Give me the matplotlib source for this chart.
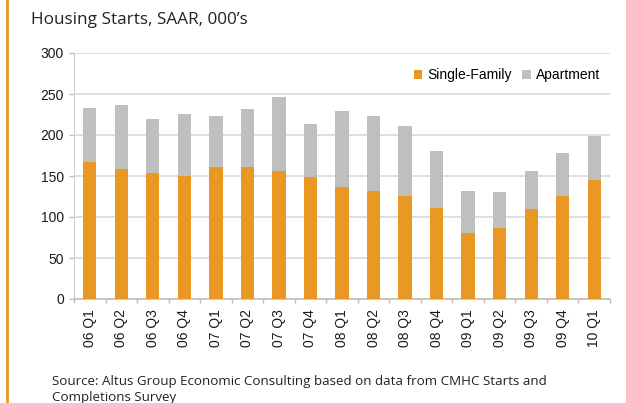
import matplotlib
matplotlib.use("Agg")
import matplotlib.pyplot as plt
import numpy as np

categories = ["06 Q1", "06 Q2", "06 Q3", "06 Q4", "07 Q1", "07 Q2", "07 Q3", "07 Q4",
              "08 Q1", "08 Q2", "08 Q3", "08 Q4", "09 Q1", "09 Q2", "09 Q3", "09 Q4", "10 Q1"]
single_family = [167, 158, 154, 150, 161, 161, 156, 149, 137, 132, 126, 111, 81, 87, 110, 126, 145]
total = [233, 237, 220, 226, 223, 232, 246, 213, 229, 223, 211, 181, 132, 131, 156, 178, 199]
apartment = [t - s for t, s in zip(total, single_family)]
yticks = [0, 50, 100, 150, 200, 250, 300]

ORANGE = "#E99822"
GRAY = "#BFBFBF"
GRID = "#D9D9D9"

fig = plt.figure(figsize=(6.26, 4.03), dpi=100)
W, H = 626, 403
ax = fig.add_axes([74 / W, 1 - 299 / H, (610 - 74) / W, (299 - 53) / H])

x = np.arange(len(categories))
ax.bar(x, single_family, width=0.42, color=ORANGE, label="Single-Family", zorder=3)
ax.bar(x, apartment, width=0.42, bottom=single_family, color=GRAY, label="Apartment", zorder=3)

ax.set_xlim(-0.5, len(categories) - 0.5)
ax.set_ylim(0, 300)
ax.yaxis.grid(True, color=GRID, linewidth=1.2, zorder=0)
ax.set_axisbelow(True)

tick_font = dict(family=["Liberation Sans", "DejaVu Sans"], size=10)
ax.set_yticks(yticks)
ax.set_yticklabels([str(v) for v in yticks], **tick_font, color="#1a1a1a")
ax.set_xticks(x)
ax.set_xticklabels(categories, rotation=90, **tick_font, color="#1a1a1a")
ax.tick_params(axis="x", length=0, pad=7.5)
ax.set_xticks(np.arange(-0.5, len(categories), 1), minor=True)
ax.tick_params(axis="x", which="minor", length=3, color="#BFBFBF", width=1)
ax.tick_params(axis="y", length=3.6, color="#BFBFBF", width=1, pad=3.6)

for side in ["top", "right"]:
    ax.spines[side].set_visible(False)
ax.spines["left"].set_color("#D0D0D0")
ax.spines["bottom"].set_color("#BFBFBF")
ax.spines["bottom"].set_linewidth(1.2)

leg = ax.legend(loc="center right", bbox_to_anchor=((600 - 74) / 536, (299 - 75) / 246), ncol=2,
                frameon=False, borderaxespad=0, borderpad=0,
                prop=dict(family=["Liberation Sans", "DejaVu Sans"], size=10),
                handlelength=0.6, handleheight=0.6, handletextpad=0.36, columnspacing=0.75)

# Orange vertical rule on the left
fig.add_artist(plt.Line2D([7 / W, 7 / W], [0, 1], color=ORANGE, linewidth=2, transform=fig.transFigure))

fig.text(31 / W, 1 - 20 / H, "Housing Starts, SAAR, 000\u2019s", fontsize=12.3,
         family=["Open Sans", "DejaVu Sans"], color="#222222", va="center", ha="left")
fig.text(52 / W, 1 - 381 / H, "Source: Altus Group Economic Consulting based on data from CMHC Starts and",
         fontsize=9.6, family=["Open Sans", "DejaVu Sans"], color="#222222", va="center", ha="left")
fig.text(52 / W, 1 - 397 / H, "Completions Survey",
         fontsize=9.6, family=["Open Sans", "DejaVu Sans"], color="#222222", va="center", ha="left")

fig.savefig("out.png", dpi=100)
